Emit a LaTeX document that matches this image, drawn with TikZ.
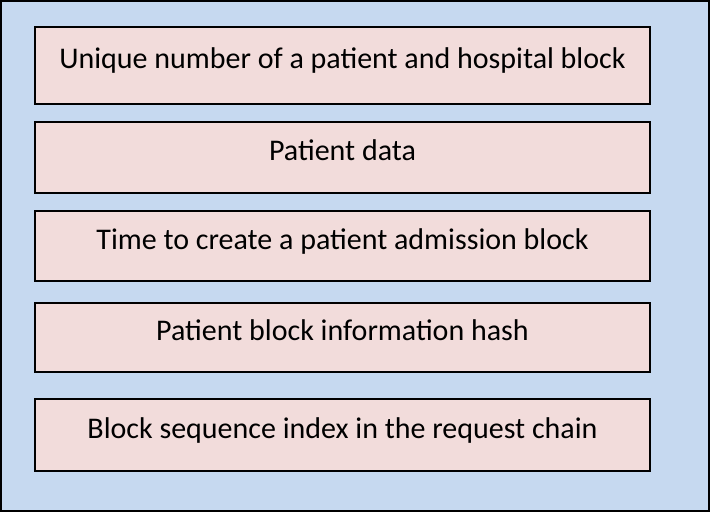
\documentclass[tikz,border=0pt]{standalone}
\usepackage{fontspec}
\setmainfont{Carlito}
\definecolor{outerblue}{RGB}{198,217,240}
\definecolor{boxpink}{RGB}{242,220,219}
\tikzset{every picture/.style={line width=0.75pt}}
\tikzset{
  fieldbox/.style={draw=black,fill=boxpink,line width=1.2pt,minimum width=461pt,
    text height=10pt,text depth=5pt,inner sep=0pt,font=\fontsize{22.5}{27}\selectfont}
}

\begin{document}
\begin{tikzpicture}[x=0.75pt,y=0.75pt,yscale=-1,xscale=1]
\useasboundingbox (0,0) rectangle (710,513);

%Shape: Rectangle [id:outer]
\draw [fill=outerblue,line width=1.5pt] (1,1) rectangle (709,511) ;

% Text Node
\node [fieldbox,minimum height=57.5pt] (unique) at (342.5,65.5) {Unique number of a patient and hospital block};
% Text Node
\node [fieldbox,minimum height=53pt] (data) at (342.5,157.5) {Patient data};
% Text Node
\node [fieldbox,minimum height=52.5pt] (time) at (342.5,246) {Time to create a patient admission block};
% Text Node
\node [fieldbox,minimum height=51.5pt] (hash) at (342.5,337.5) {Patient block information hash};
% Text Node
\node [fieldbox,minimum height=54pt] (index) at (342.5,435) {Block sequence index in the request chain};

\end{tikzpicture}
\end{document}
